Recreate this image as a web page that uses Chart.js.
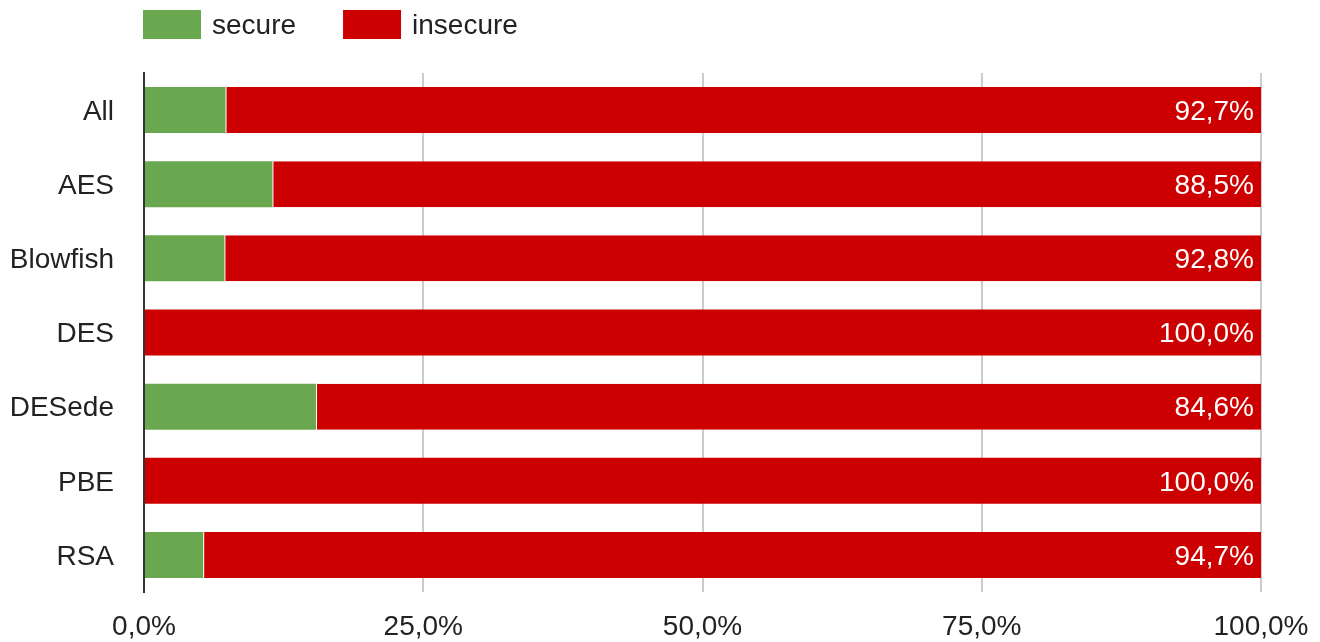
<!DOCTYPE html>
<html>
<head>
<meta charset="utf-8">
<script src="https://cdn.jsdelivr.net/npm/chart.js@4"></script>
<style>
  html, body { margin: 0; padding: 0; background: #fff; }
  #wrap { width: 1320px; height: 642px; }
</style>
</head>
<body>
<div id="wrap"><canvas id="chart"></canvas></div>
<script>
const categories = ["All", "AES", "Blowfish", "DES", "DESede", "PBE", "RSA"];
const secure = [7.3, 11.5, 7.2, 0, 15.4, 0, 5.3];
const insecure = [92.7, 88.5, 92.8, 100, 84.6, 100, 94.7];
const xTicks = [0, 25, 50, 75, 100];

const FONT = "'Liberation Sans', Arial, sans-serif";
const fmt = v => v.toFixed(1).replace(".", ",") + "%";

// white value labels at the right end of the red bars
const barLabels = {
    id: "barLabels",
    afterDatasetsDraw(chart) {
        const ctx = chart.ctx;
        const meta = chart.getDatasetMeta(1);
        ctx.save();
        ctx.font = "28px " + FONT;
        ctx.fillStyle = "#ffffff";
        ctx.textAlign = "right";
        ctx.textBaseline = "middle";
        meta.data.forEach((bar, i) => {
            ctx.fillText(fmt(insecure[i]), bar.x - 7, bar.y + 2);
        });
        ctx.restore();
    }
};

// legend row above the plot, starting at the axis line
const topLegend = {
    id: "topLegend",
    afterDraw(chart) {
        const ctx = chart.ctx;
        ctx.save();
        ctx.font = "28px " + FONT;
        ctx.textBaseline = "middle";
        ctx.textAlign = "left";
        let x = chart.chartArea.left - 1;
        chart.data.datasets.forEach(ds => {
            ctx.fillStyle = ds.backgroundColor;
            ctx.fillRect(x, 10, 58, 29);
            ctx.fillStyle = "#222222";
            ctx.fillText(ds.label, x + 69, 26);
            x += 69 + ctx.measureText(ds.label).width + 47;
        });
        ctx.restore();
    }
};

Chart.defaults.font.family = FONT;
Chart.defaults.font.size = 28;
Chart.defaults.color = "#222222";

new Chart(document.getElementById("chart"), {
    type: "bar",
    data: {
        labels: categories,
        datasets: [
            {
                label: "secure",
                data: secure,
                backgroundColor: "#6aa84f",
                borderWidth: 0,
                barPercentage: 0.62,
                categoryPercentage: 1
            },
            {
                label: "insecure",
                data: insecure,
                backgroundColor: "#cc0000",
                borderColor: "#ffffff",
                borderSkipped: false,
                borderWidth: ctx => secure[ctx.dataIndex] > 0 ? { left: 1, top: 0, right: 0, bottom: 0 } : 0,
                barPercentage: 0.62,
                categoryPercentage: 1
            }
        ]
    },
    options: {
        indexAxis: "y",
        responsive: true,
        maintainAspectRatio: false,
        animation: false,
        layout: { padding: { top: 73, right: 59, bottom: 0, left: 0 } },
        plugins: {
            tooltip: { enabled: false },
            legend: { display: false }
        },
        scales: {
            x: {
                stacked: true,
                min: 0,
                max: 100,
                afterBuildTicks: axis => { axis.ticks = xTicks.map(v => ({ value: v })); },
                afterFit: axis => {
                    axis.height = 50;
                    axis.paddingLeft = 0;
                    axis.paddingRight = 0;
                },
                ticks: {
                    padding: 18,
                    maxRotation: 0,
                    callback: v => fmt(v)
                },
                grid: { color: "#cccccc", lineWidth: 2, drawTicks: false },
                border: { display: false }
            },
            y: {
                stacked: true,
                afterFit: axis => { axis.width = 144; },
                ticks: { padding: 30, labelOffset: 2 },
                grid: { display: false, drawTicks: false },
                border: { display: true, color: "#333333", width: 2 }
            }
        }
    },
    plugins: [barLabels, topLegend]
});
</script>
</body>
</html>
